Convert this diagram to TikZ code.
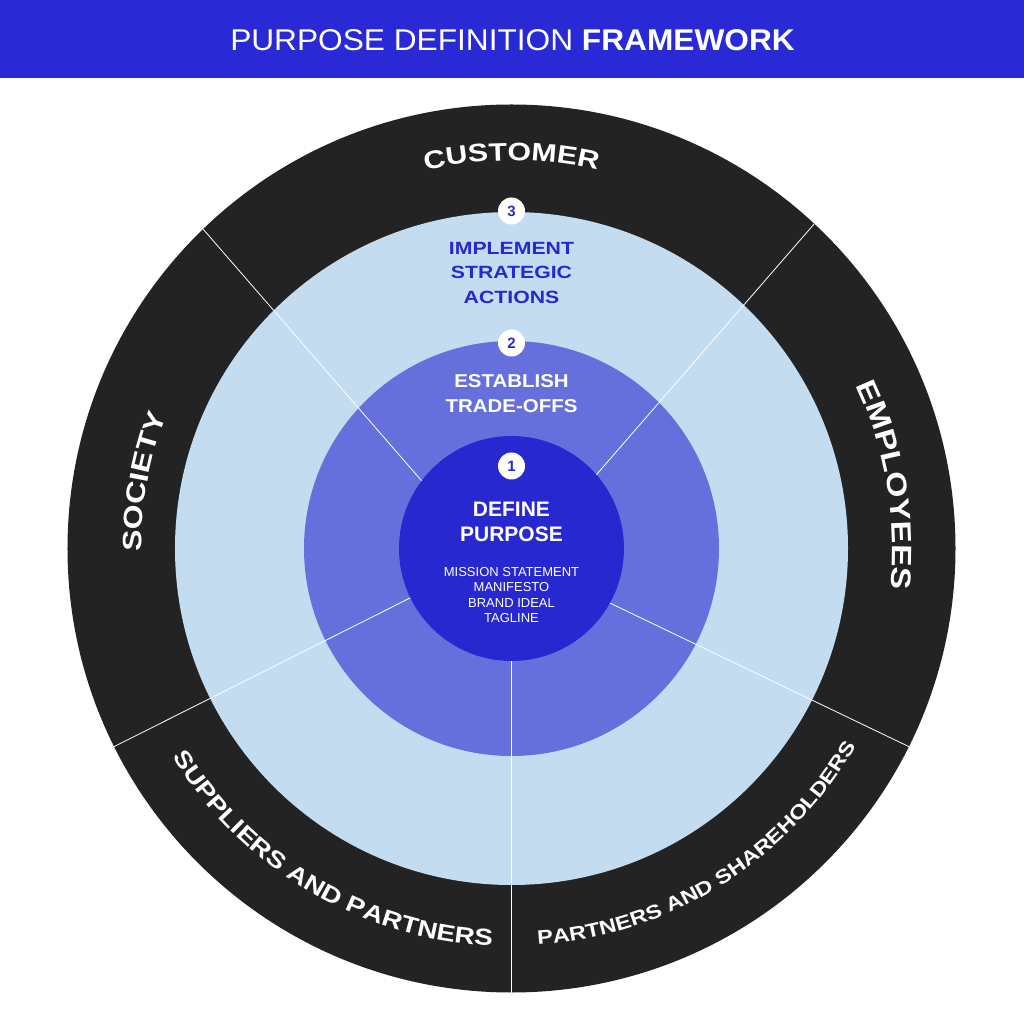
\documentclass[tikz,border=0pt]{standalone}
\usepackage{fontspec}
\setmainfont{Liberation Sans}
\newfontfamily\ringfont{Liberation Sans}[FakeStretch=1.2]
\usetikzlibrary{decorations.text}
\definecolor{banner}{HTML}{2929D5}
\definecolor{core}{HTML}{2828D0}
\definecolor{middle}{HTML}{6670DC}
\definecolor{lightring}{HTML}{C4DCEF}
\definecolor{darkring}{HTML}{232323}

\begin{document}
\begin{tikzpicture}[
    x=1pt, y=1pt,
    badge/.style={circle, fill=white, minimum size=27pt, inner sep=0, text=core, font=\bfseries\fontsize{15}{15}\selectfont},
    divider/.style={white, line width=0.8pt},
    ringtext/.style 2 args={decorate, decoration={text along path, text align=center,
        text={|\ringfont\bfseries\fontsize{#1}{#1}\selectfont\color{white}|#2}}},
    blocktext/.style={align=center, inner sep=0}
]
\useasboundingbox (-511.5,-475.5) rectangle (512.5,548.5);
\fill[white] (-511.5,-475.5) rectangle (512.5,548.5);

% title bar
\fill[banner] (-511.5,470.5) rectangle (512.5,548.5);
\node[text=white, font=\fontsize{30}{30}\selectfont, xscale=1.055] (title) at (1,508.5) {PURPOSE DEFINITION \textbf{FRAMEWORK}};

% rings
\fill[darkring] (0,0) circle[radius=444];
\fill[lightring] (0,0) circle[radius=336.5];
\fill[middle] (0,0) circle[radius=207.5];
\fill[core] (0,0) circle[radius=112.5];

% sector dividers
\draw[divider] (143:112.5) -- (134:444);
\draw[divider] (41:112.5) -- (47:444);
\draw[divider] (206:112.5) -- (206.5:444);
\draw[divider] (270:112.5) -- (270:444);
\draw[divider] (331:112.5) -- (333.5:444);

% stakeholder labels
\path[ringtext={25.3}{CUSTOMER}] (130:388) arc[start angle=130, end angle=50, radius=388];
\path[ringtext={26.5}{SOCIETY}] (206:370) arc[start angle=206, end angle=133.4, radius=370];
\path[ringtext={28}{EMPLOYEES}] (50:381) arc[start angle=50, end angle=-30.7, radius=381];
\path[ringtext={23.2}{SUPPLIERS AND PARTNERS}] (208.8:398) arc[start angle=208.8, end angle=270, radius=398];
\path[ringtext={19.6}{PARTNERS AND SHAREHOLDERS}] (270:397) arc[start angle=270, end angle=334, radius=397];

% steps
\node[badge] (n3) at (0,337.5) {3};
\node[blocktext, text=core, font=\bfseries\fontsize{17.7}{24.5}\selectfont, xscale=1.2] (implement) at (0,275.5) {IMPLEMENT\\STRATEGIC\\ACTIONS};

\node[badge] (n2) at (0,205.5) {2};
\node[blocktext, text=white, font=\bfseries\fontsize{18.6}{25}\selectfont, xscale=1.1] (establish) at (0,155) {ESTABLISH\\TRADE-OFFS};

\node[badge] (n1) at (0,82.5) {1};
\node[blocktext, text=white, font=\bfseries\fontsize{21}{25}\selectfont] (define) at (0,27) {DEFINE\\PURPOSE};
\node[blocktext, text=white, font=\fontsize{13}{15.3}\selectfont] (outputs) at (0,-46.5) {MISSION STATEMENT\\MANIFESTO\\BRAND IDEAL\\TAGLINE};
\end{tikzpicture}
\end{document}
